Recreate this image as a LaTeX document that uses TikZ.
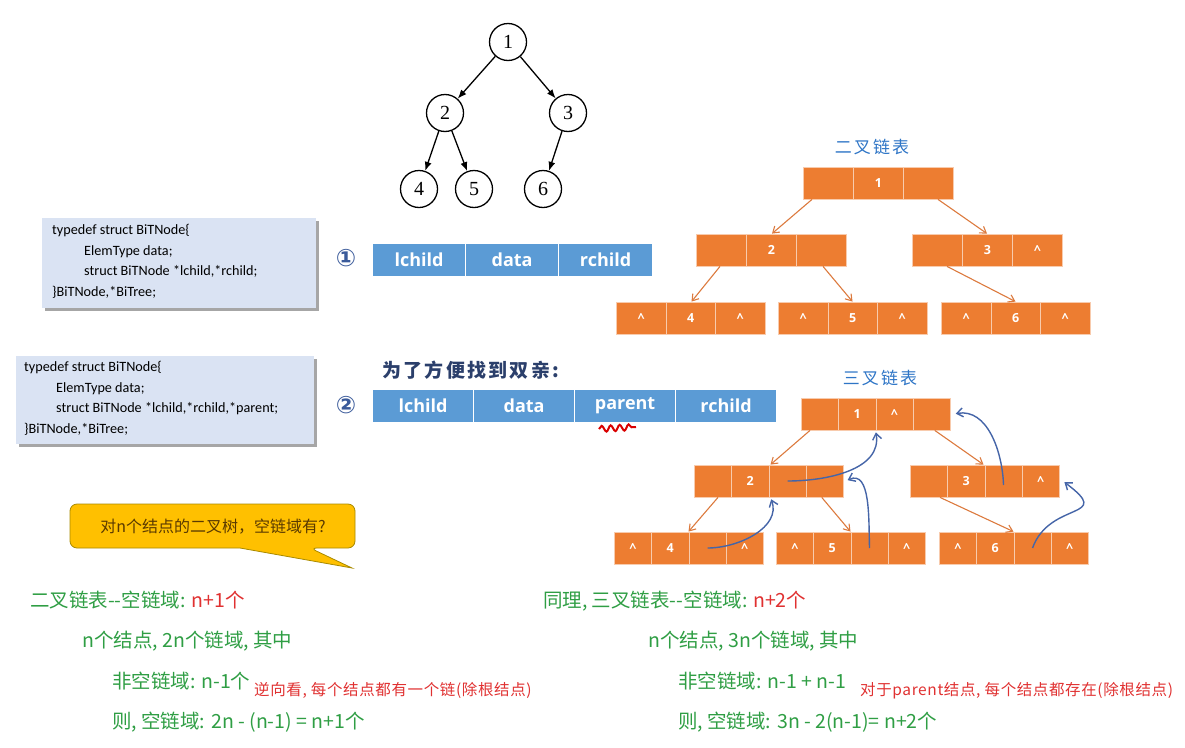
\documentclass[tikz,border=0pt]{standalone}
\usepackage{fontspec}
\setmainfont{Liberation Serif}
\newfontfamily\cjk{Noto Sans CJK SC}
\newfontfamily\cjkls[LetterSpace=12]{Noto Sans CJK SC}
\newfontfamily\cjkred[LetterSpace=4]{Noto Sans CJK SC}
\newfontfamily\carl{Carlito}
\newfontfamily\osans{Open Sans}
\newfontfamily\dvs{DejaVu Sans}
\usetikzlibrary{arrows.meta,decorations.pathmorphing}
\definecolor{org}{HTML}{ED7D31}
\definecolor{orgline}{HTML}{F8CBAD}
\definecolor{orgarrow}{HTML}{DC7A3E}
\definecolor{barblue}{HTML}{5B9BD5}
\definecolor{cbox}{HTML}{DAE3F3}
\definecolor{cshadow}{HTML}{A6A6A6}
\definecolor{lblue}{HTML}{2E75C6}
\definecolor{cblue}{HTML}{4565A8}
\definecolor{exgreen}{HTML}{2F9E44}
\definecolor{exred}{HTML}{E03131}
\definecolor{callfill}{HTML}{FFC000}
\definecolor{calldraw}{HTML}{A88A00}
\definecolor{calltext}{HTML}{5A3A00}
\definecolor{navy}{HTML}{2B3F6B}
\definecolor{circnum}{HTML}{3A5A9A}
\newcommand\ca{\textasciicircum}
\tikzset{
  tnode/.style={circle,draw,line width=1.3pt,minimum size=37pt,inner sep=0pt,font=\fontsize{20}{20}\selectfont},
  tedge/.style={line width=1.3pt,-{Latex[length=9pt,width=7pt]}},
  ocell/.style={fill=org,draw=orgline,line width=0.8pt,inner sep=0pt,text=white,font=\osans\bfseries\fontsize{12.5}{12.5}\selectfont},
  bcell/.style={fill=barblue,draw=white,line width=1.2pt,inner sep=0pt,text=white,minimum height=33pt,font=\osans\bfseries\fontsize{18}{18}\selectfont},
  oarrow/.style={orgarrow,line width=1.1pt,-{Straight Barb[length=6pt,width=8pt]}},
  barrow/.style={cblue,line width=1.4pt,-{Straight Barb[length=6pt,width=9pt]},shorten >=2pt},
  codebox/.style={fill=cbox,draw=none},
  codetext/.style={anchor=north west,align=left,inner sep=0pt,font=\carl\fontsize{14.2}{20.7}\selectfont},
  gtext/.style={anchor=base west,inner sep=0pt,text=exgreen,font=\cjk\fontsize{19.5}{20}\selectfont},
  rtext/.style={anchor=base west,inner sep=0pt,text=exred,font=\cjkred\fontsize{15.5}{15.5}\selectfont},
}
\newcommand\cellrow[6]{%
  \foreach \t [count=\i] in {#6} {
    \node[ocell,minimum width=#4pt,minimum height=#5pt,anchor=west] (#1-\i) at ({#2+(\i-1)*#4},#3) {\t};
  }}
\begin{document}
\begin{tikzpicture}[x=1pt,y=-1pt]
\useasboundingbox (0,0) rectangle (1185,747);
% ---------- tree ----------
\node[tnode] (n1) at (508,42) {1};
\node[tnode] (n2) at (445,113) {2};
\node[tnode] (n3) at (568,113) {3};
\node[tnode] (n4) at (419,189) {4};
\node[tnode] (n5) at (474,189) {5};
\node[tnode] (n6) at (543,189) {6};
\draw[tedge] (n1) -- (n2);
\draw[tedge] (n1) -- (n3);
\draw[tedge] (n2) -- (n4);
\draw[tedge] (n2) -- (n5);
\draw[tedge] (n3) -- (n6);
% ---------- code boxes ----------
\fill[cshadow] (45,221) rectangle (319,311);
\fill[codebox] (42,218) rectangle (316,308);
\node[codetext] (code1) at (52,224) {typedef struct BiTNode\{\\\hspace{32pt}ElemType data;\\\hspace{32pt}struct BiTNode *lchild,*rchild;\\\}BiTNode,*BiTree;};
\fill[cshadow] (19,359) rectangle (317,447);
\fill[codebox] (16,356) rectangle (314,444);
\node[codetext] (code2) at (24,361) {typedef struct BiTNode\{\\\hspace{32pt}ElemType data;\\\hspace{32pt}struct BiTNode *lchild,*rchild,*parent;\\\}BiTNode,*BiTree;};
% ---------- circled numbers ----------
\node[text=circnum,font=\dvs\bfseries\fontsize{24}{24}\selectfont] (c1) at (346,258) {①};
\node[text=circnum,font=\dvs\bfseries\fontsize{24}{24}\selectfont] (c2) at (346,405) {②};
% ---------- blue bars ----------
\node[bcell,minimum width=93pt,anchor=west] (f1a) at (372,260) {lchild};
\node[bcell,minimum width=93pt,anchor=west] (f1b) at (465,260) {data};
\node[bcell,minimum width=94pt,anchor=west] (f1c) at (558,260) {rchild};
\node[bcell,minimum width=101pt,anchor=west] (f2a) at (372,406) {lchild};
\node[bcell,minimum width=101pt,anchor=west] (f2b) at (473,406) {data};
\node[bcell,minimum width=101pt,anchor=west] (f2c) at (574,406) {parent};
\node[bcell,minimum width=101pt,anchor=west] (f2d) at (675,406) {rchild};
\node[anchor=west,inner sep=0pt,text=navy,font=\cjkls\bfseries\fontsize{19}{19}\selectfont] (why) at (382,370) {为了方便找到双亲:};
\draw[red!85!black,line width=2pt,decorate,decoration={snake,segment length=9pt,amplitude=3pt}] (599,429) -- (636,427);
% ---------- binary linked list ----------
\node[text=lblue,font=\cjkls\fontsize{17}{17}\selectfont] (lab2) at (872,147) {二叉链表};
\cellrow{b1}{803}{183}{50}{32}{{},1,{}}
\cellrow{b2}{696}{250}{50}{32}{{},2,{}}
\cellrow{b3}{912}{250}{50}{32}{{},3,\ca}
\cellrow{b4}{616}{318}{49.5}{32}{\ca,4,\ca}
\cellrow{b5}{778}{318}{49.5}{32}{\ca,5,\ca}
\cellrow{b6}{941}{318}{49.5}{32}{\ca,6,\ca}
\draw[oarrow] ([xshift=9pt]b1-1.south west) -- ([xshift=26pt]b2-2.north west);
\draw[oarrow] ([xshift=35pt]b1-3.south west) -- ([xshift=25pt]b3-2.north west);
\draw[oarrow] ([xshift=24pt]b2-1.south west) -- ([xshift=26pt]b4-2.north west);
\draw[oarrow] ([xshift=27pt]b2-3.south west) -- ([xshift=25pt]b5-2.north west);
\draw[oarrow] ([xshift=35pt]b3-1.south west) -- ([xshift=25pt]b6-2.north west);
% ---------- ternary linked list ----------
\node[text=lblue,font=\cjkls\fontsize{17}{17}\selectfont] (lab3) at (880,378) {三叉链表};
\cellrow{t1}{801}{414}{37.25}{32}{{},1,\ca,{}}
\cellrow{t2}{694}{481}{37.25}{32}{{},2,{},{}}
\cellrow{t3}{910}{481}{37.25}{32}{{},3,{},\ca}
\cellrow{t4}{614}{548}{37.25}{32}{\ca,4,{},\ca}
\cellrow{t5}{776}{548}{37.25}{32}{\ca,5,{},\ca}
\cellrow{t6}{939}{548}{37.25}{32}{\ca,6,{},\ca}
\draw[oarrow] ([xshift=9pt]t1-1.south west) -- ([xshift=2pt]t2-3.north west);
\draw[oarrow] ([xshift=22pt]t1-4.south west) -- ([xshift=-1pt]t3-3.north west);
\draw[oarrow] ([xshift=24pt]t2-1.south west) -- (t4-3.north west);
\draw[oarrow] ([xshift=16pt]t2-4.south west) -- (t5-3.north west);
\draw[oarrow] ([xshift=30pt]t3-1.south west) -- (t6-3.north west);
\draw[barrow] (t4-3.center) to[out=0,in=-70] ([xshift=2pt]t2-3.south west);
\draw[barrow] (t2-3.center) to[out=0,in=-80] (t1-3.south west);
\draw[barrow] (t5-3.center) to[out=92,in=25] ([xshift=2pt]t2-4.east);
\draw[barrow] ([yshift=-4pt]t3-3.center) to[out=92,in=10] ([xshift=3pt]t1-4.east);
\draw[barrow] (t6-3.center) .. controls (1050,500) and (1115,520) .. ([xshift=3pt]t3-4.east);
% ---------- callout ----------
\draw[calldraw,fill=callfill,line width=0.8pt] (70,526) [rounded corners=7pt] -- (70,504) -- (355,504) -- (355,548) -- (310,548) [sharp corners] -- (352,568) -- (240,548) [rounded corners=7pt] -- (70,548) -- (70,526) -- cycle;
\node[text=calltext,font=\cjk\fontsize{16}{16}\selectfont] (ask) at (213,527) {对n个结点的二叉树，空链域有?};
% ---------- bottom texts ----------
\node[gtext] (l1) at (30,607) {二叉链表--空链域: \textcolor{exred}{n+1个}};
\node[gtext] (l2) at (82,647) {n个结点, 2n个链域, 其中};
\node[gtext] (l3) at (112,688) {非空链域: n-1个};
\node[rtext] (l3r) at (254,695) {逆向看, 每个结点都有一个链(除根结点)};
\node[gtext] (l4) at (112,728) {则, 空链域: 2n - (n-1) = n+1个};
\node[gtext] (r1) at (543,607) {同理, 三叉链表--空链域: \textcolor{exred}{n+2个}};
\node[gtext] (r2) at (648,647) {n个结点, 3n个链域, 其中};
\node[gtext] (r3) at (678,688) {非空链域: n-1 + n-1};
\node[rtext] (r3r) at (860,695) {对于parent结点, 每个结点都存在(除根结点)};
\node[gtext] (r4) at (678,728) {则, 空链域: 3n - 2(n-1)= n+2个};
\end{tikzpicture}
\end{document}
